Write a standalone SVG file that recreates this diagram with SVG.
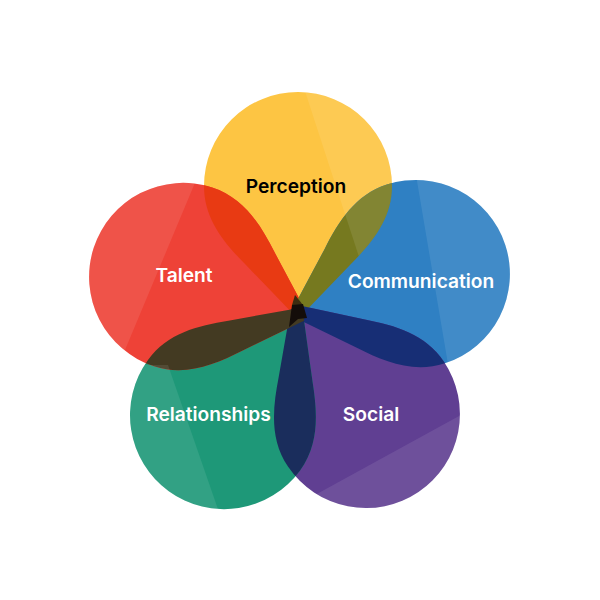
<svg xmlns="http://www.w3.org/2000/svg" xmlns:xlink="http://www.w3.org/1999/xlink" width="600" height="600" viewBox="0 0 600 600">
<style>
text{font-family:"Inter","Liberation Sans",sans-serif;font-size:19.2px;font-weight:600;text-anchor:middle;fill:#fff}
.sheen{fill:#fff;fill-opacity:.09}
</style>
<defs>
<path id="p" d="M0,8 L52,-46 C74,-68 94,-92 94,-125 A94,94 0 1 0 -94,-125 C-94,-92 -74,-68 -52,-46 Z"/>
<clipPath id="cY"><use href="#p" transform="translate(298,311)"/></clipPath>
<clipPath id="cB"><use href="#p" transform="translate(297,312.6) rotate(72)"/></clipPath>
<clipPath id="cP"><use href="#p" transform="translate(296,310.4) rotate(146)"/></clipPath>
<clipPath id="cG"><use href="#p" transform="translate(297.5,314) rotate(216)"/></clipPath>
<clipPath id="cR"><use href="#p" transform="translate(302,315.5) rotate(288)"/></clipPath>
</defs>
<rect width="600" height="600" fill="#fff"/>
<g id="petals">
<use href="#p" transform="translate(298,311)" fill="#fdc543"/>
<use href="#p" transform="translate(297,312.6) rotate(72)" fill="#2f80c3"/>
<use href="#p" transform="translate(296,310.4) rotate(146)" fill="#603f92"/>
<use href="#p" transform="translate(297.5,314) rotate(216)" fill="#1e9878"/>
<use href="#p" transform="translate(302,315.5) rotate(288)" fill="#ee4237"/>
</g>
<g id="overlaps">
<g clip-path="url(#cY)"><use href="#p" transform="translate(302,315.5) rotate(288)" fill="#e83a13"/></g>
<g clip-path="url(#cY)"><use href="#p" transform="translate(297,312.6) rotate(72)" fill="#76791f"/></g>
<g clip-path="url(#cB)"><use href="#p" transform="translate(296,310.4) rotate(146)" fill="#172e75"/></g>
<g clip-path="url(#cP)"><use href="#p" transform="translate(297.5,314) rotate(216)" fill="#1a2d5c"/></g>
<g clip-path="url(#cG)"><use href="#p" transform="translate(302,315.5) rotate(288)" fill="#433a22"/></g>
</g>
<g id="facets">
<g clip-path="url(#cY)"><path class="sheen" d="M303,85 L360,260 L420,260 L420,85 Z"/></g>
<g clip-path="url(#cB)"><path class="sheen" d="M416,175 L449,370 L520,370 L520,175 Z"/></g>
<g clip-path="url(#cP)"><path class="sheen" d="M470,410 L315,495 L330,520 L470,520 Z"/></g>
<g clip-path="url(#cG)"><path class="sheen" d="M168,365 L220,515 L120,515 L120,365 Z"/></g>
<g clip-path="url(#cR)"><path class="sheen" d="M197,178 L125,350 L80,350 L80,178 Z"/></g>
</g>
<path id="wedge" d="M295,295 L303,305 L292,305 Z" fill="#3d2c10"/>
<path id="core" d="M292,305 L303,304 L307,318 L298,319 L289,327 Z" fill="#140d0a"/>
<g id="perception"><text x="296" y="193" style="fill:#000">Perception</text></g>
<g id="communication"><text x="421" y="288">Communication</text></g>
<g id="social"><text x="371" y="420.500">Social</text></g>
<g id="relationships"><text x="208.500" y="420.500">Relationships</text></g>
<g id="talent"><text x="184" y="281.500">Talent</text></g>
</svg>
